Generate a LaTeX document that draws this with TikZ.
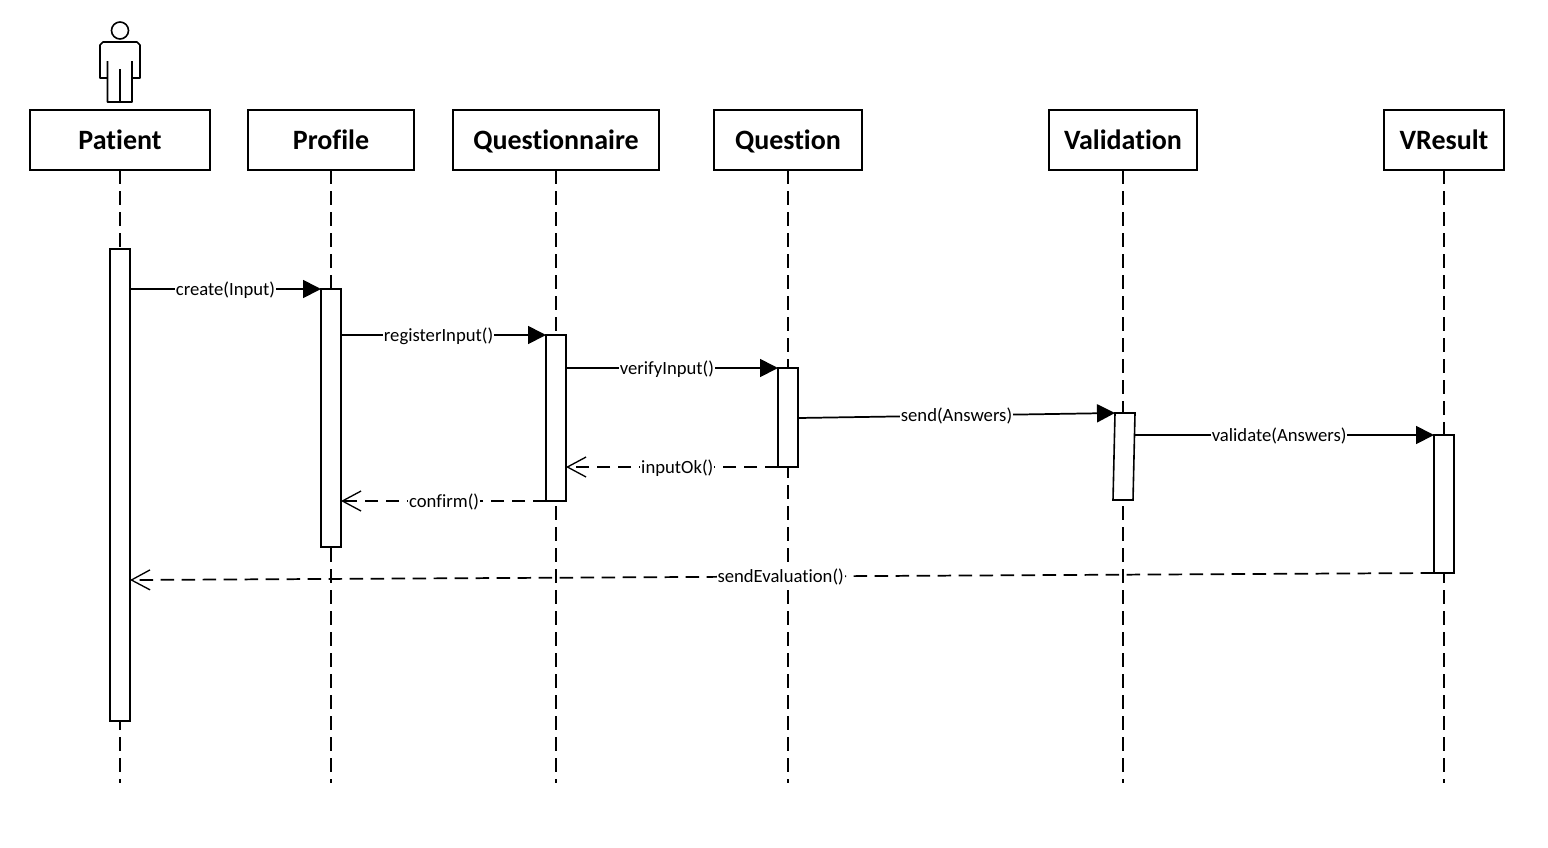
\documentclass[tikz,border=0pt]{standalone}
\usepackage{fontspec}
\setmainfont{Carlito}[Ligatures=NoCommon]
\usetikzlibrary{arrows.meta}
\tikzset{
	head/.style={draw,line width=1.3pt,fill=white,inner sep=0,outer sep=0,minimum height=45pt,text height=15.5pt,text depth=2pt,font=\fontsize{21}{24}\selectfont\bfseries},
	life/.style={line width=1.3pt,dash pattern=on 10.2pt off 5.55pt},
	bar/.style={draw,line width=1.2pt,fill=white,inner sep=0,outer sep=0,minimum width=15pt,anchor=north},
	call/.style={line width=1.3pt,-{Triangle[length=13.5pt,width=13.5pt]}},
	back/.style={line width=1.3pt,dash pattern=on 10pt off 5.75pt,-{Straight Barb[length=14pt,width=15pt,line width=1pt]}},
	lbl/.style={fill=white,inner sep=.6pt,yshift=-.6pt,font=\fontsize{14}{16}\selectfont}
}
\begin{document}
\begin{tikzpicture}[x=.75pt,y=-.75pt]
\useasboundingbox (0,0) rectangle (1548,847);
% heads and lifelines
\foreach \name/\cx/\boxw/\txt in {patient/120/180/Patient, profile/331/166/Profile, questionnaire/556/206/Questionnaire, question/788/148/Question, validation/1123/148/Validation, vresult/1444/120/VResult} {
	\node[head,minimum width=\boxw*.75pt] (\name) at (\cx,140) {\txt};
	\draw[life] (\name.south) -- ++(0,613);
}
% actor
\draw[line width=1.2pt] (120,30.5) circle (8.5);
\draw[line width=1.2pt,line join=round] (107.5,61) -- (107.5,102) -- (132,102) -- (132,61)
	(120,69) -- (120,102)
	(107.5,78) -- (100,78) -- (100,45) -- (103,42) -- (137,42) -- (140,45) -- (140,78) -- (132,78);
% activation bars
\node[bar,minimum height=472*.75pt] (patientbar) at (120,249) {};
\node[bar,minimum height=258*.75pt] (profilebar) at (331,289) {};
\node[bar,minimum height=166*.75pt] (questionnairebar) at (556,335) {};
\node[bar,minimum height=99*.75pt] (questionbar) at (788,368) {};
\node[bar,minimum height=138*.75pt] (vresultbar) at (1444,435) {};
\coordinate (valtop) at (1115,413);
\coordinate (valbot) at (1113,500);
\coordinate (valright) at (1135,435);
\coordinate (sendstart) at (798,418);
\coordinate (evalstart) at (1434,573);
\coordinate (evalend) at (130,580);
\draw[line width=1.2pt,fill=white] (valtop) -- (1135,413) -- (1133,500) -- (valbot) -- cycle;
% messages
\draw[call] (patientbar.east |- profilebar.north) -- node[lbl] {create(Input)} (profilebar.north west);
\draw[call] (profilebar.east |- questionnairebar.north) -- node[lbl,pos=.476] {registerInput()} (questionnairebar.north west);
\draw[call] (questionnairebar.east |- questionbar.north) -- node[lbl,pos=.476] {verifyInput()} (questionbar.north west);
\draw[call] (sendstart) -- node[lbl] {send(Answers)} (valtop);
\draw[call] (valright) -- node[lbl,pos=.482] {validate(Answers)} (vresultbar.north west);
\draw[back] (questionbar.south west) -- node[lbl,pos=.475] {inputOk()} (questionnairebar.east |- questionbar.south);
\draw[back] (questionnairebar.south west) -- node[lbl,pos=.497] {confirm()} (profilebar.east |- questionnairebar.south);
\draw[back] (evalstart) -- node[lbl,pos=.501] {sendEvaluation()} (evalend);
\end{tikzpicture}
\end{document}
